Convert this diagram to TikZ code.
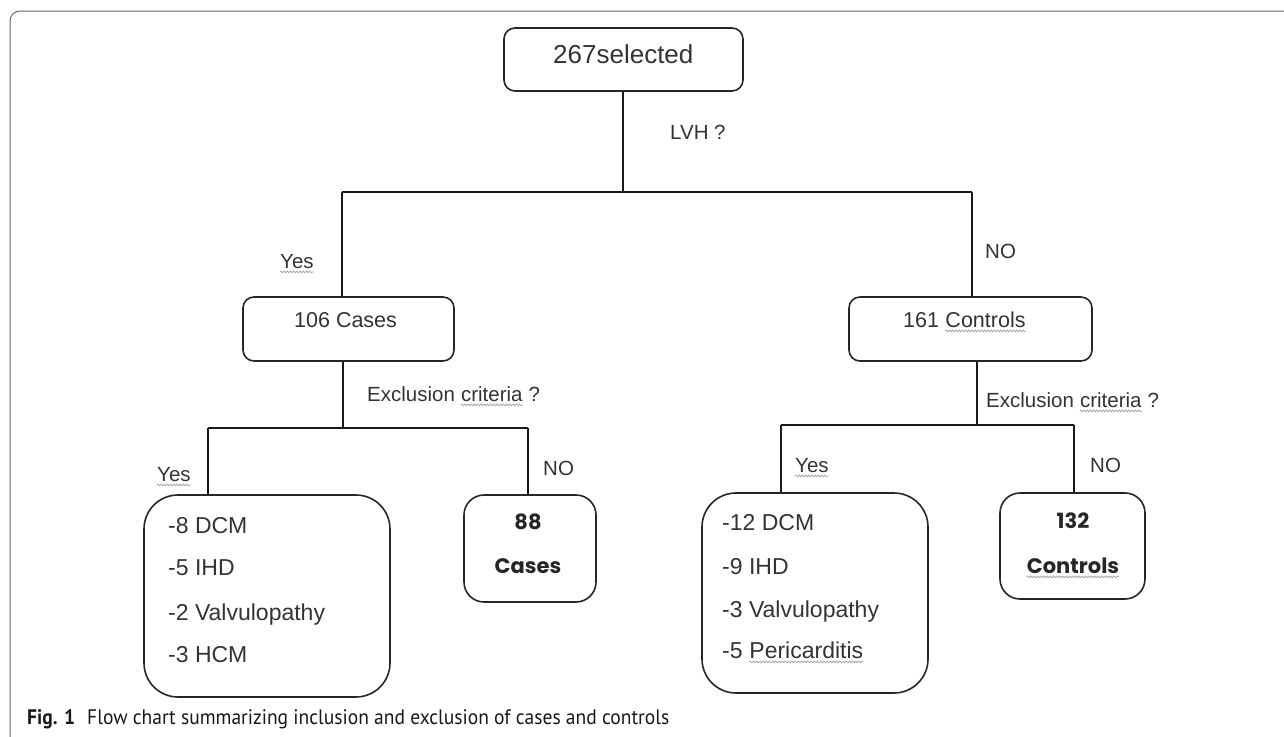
\documentclass[tikz,border=0pt]{standalone}
\usepackage{fontspec}
\setmainfont{Liberation Sans}
\newfontfamily\boldf{Poppins}
\newfontfamily\capf[FakeStretch=0.93]{PT Sans}
\usetikzlibrary{calc,decorations.pathmorphing}
\tikzset{
  box/.style={draw=black!85, line width=1.6pt, rounded corners=#1, inner sep=0pt},
  box/.default=11pt,
  conn/.style={draw=black!90, line width=1.6pt},
  lbl/.style={inner sep=0pt, anchor=base west, text=black!80, font=\fontsize{20.5}{24}\selectfont},
  btxt/.style={inner sep=0pt, anchor=base west, text=black!80, font=\fontsize{21.5}{26}\selectfont},
  ltxt/.style={inner sep=0pt, anchor=base west, text=black!80, font=\fontsize{23}{27}\selectfont},
  bold/.style={inner sep=0pt, anchor=base, text=black!85, font=\boldf\bfseries\fontsize{21}{25}\selectfont},
  frame/.style={draw=black!60, line width=1pt},
  captxt/.style={inner sep=0pt, anchor=base west, text=black!90, font=\capf\fontsize{21}{24}\selectfont},
  wavy/.style={draw=gray!75, line width=0.7pt, decorate, decoration={snake, amplitude=0.9pt, segment length=3.2pt}}
}
\begin{document}
\begin{tikzpicture}[x=1pt,y=-1pt]
\useasboundingbox (0,0) rectangle (1284,736);
% outer frame
\draw[frame, rounded corners=10pt] (10,746) -- (10,11) -- (1290,11);

% boxes
\node[box, minimum width=239pt, minimum height=63pt] (root) at (623.5,59.5) {};
\node[box, minimum width=211pt, minimum height=64pt] (cases) at (348.5,329) {};
\node[box, minimum width=243pt, minimum height=64pt] (ctrl) at (970.5,329) {};
\node[box=34pt, minimum width=246pt, minimum height=202pt] (exA) at (267,596) {};
\node[box=20pt, minimum width=132pt, minimum height=107pt] (inA) at (530,548.5) {};
\node[box=34pt, minimum width=226pt, minimum height=200pt] (exB) at (815,593) {};
\node[box=20pt, minimum width=145pt, minimum height=106pt] (inB) at (1072.5,546) {};

% junction coordinates
\coordinate (j0) at (623,192);
\coordinate (j0L) at (342,192);
\coordinate (j0R) at (972,192);
\coordinate (j1) at (343,428);
\coordinate (j1L) at (208,428);
\coordinate (j1R) at (528,428);
\coordinate (j2) at (977,425);
\coordinate (j2L) at (781,425);
\coordinate (j2R) at (1074,425);

% connectors
\draw[conn] (root.south -| j0) -- (j0);
\draw[conn] (j0L) -- (j0R);
\draw[conn] (j0L) -- (j0L |- cases.north);
\draw[conn] (j0R) -- (j0R |- ctrl.north);
\draw[conn] (cases.south -| j1) -- (j1);
\draw[conn] (j1L) -- (j1R);
\draw[conn] (j1L) -- (j1L |- exA.north);
\draw[conn] (j1R) -- (j1R |- inA.north);
\draw[conn] (ctrl.south -| j2) -- (j2);
\draw[conn] (j2L) -- (j2R);
\draw[conn] (j2L) -- (j2L |- exB.north);
\draw[conn] (j2R) -- (j2R |- inB.north);

% box texts
\node[inner sep=0pt, anchor=base west, text=black!80, font=\fontsize{26}{30}\selectfont] (t0) at (553,63) {267selected};
\node[btxt] (t1) at (294,327) {106 Cases};
\node[btxt] (t2a) at (903,327) {161};
\node[btxt] (t2b) at ($(t2a.base east)+(6,0)$) {Controls};

% branch labels
\node[lbl] (lvh) at (670,139) {LVH ?};
\node[lbl] (y1) at (280,268) {Yes};
\node[lbl] (n1) at (985,258) {NO};
\node[lbl] (ex1a) at (367,401) {Exclusion};
\node[lbl] (ex1b) at ($(ex1a.base east)+(5.7,0)$) {criteria};
\node[lbl] (ex1c) at ($(ex1b.base east)+(5.7,0)$) {?};
\node[lbl] (ex2a) at (986,407) {Exclusion};
\node[lbl] (ex2b) at ($(ex2a.base east)+(5.7,0)$) {criteria};
\node[lbl] (ex2c) at ($(ex2b.base east)+(5.7,0)$) {?};
\node[lbl] (y2) at (157,481) {Yes};
\node[lbl] (n2) at (543,475) {NO};
\node[lbl] (y3) at (795,472) {Yes};
\node[lbl] (n3) at (1090,472) {NO};

% lists
\node[ltxt] (a1) at (168,533) {-8 DCM};
\node[ltxt] (a2) at (168,575) {-5 IHD};
\node[ltxt] (a3) at (168,620) {-2 Valvulopathy};
\node[ltxt] (a4) at (168,662) {-3 HCM};
\node[ltxt] (b1) at (722,530) {-12 DCM};
\node[ltxt] (b2) at (722,574) {-9 IHD};
\node[ltxt] (b3) at (722,617) {-3 Valvulopathy};
\node[ltxt] (b4a) at (722,658) {-5};
\node[ltxt] (b4b) at ($(b4a.base east)+(6.4,0)$) {Pericarditis};

% bold counts
\node[bold] (c1) at (528,529) {88};
\node[bold] (c2) at (528,573) {Cases};
\node[bold] (c3) at (1073,528) {132};
\node[bold] (c4) at (1073,573) {Controls};

% spell-check squiggles
\foreach \n in {t2b,y1,ex1b,ex2b,y2,y3,b4b,c4}
  \draw[wavy] ([yshift=-3.5pt]\n.south west) -- ([yshift=-3.5pt]\n.south east);

% caption
\node[captxt, font=\capf\bfseries\fontsize{21}{24}\selectfont] (fig) at (27,724) {Fig. 1};
\node[captxt] (cap) at (87,724) {Flow chart summarizing inclusion and exclusion of cases and controls};
\end{tikzpicture}
\end{document}
